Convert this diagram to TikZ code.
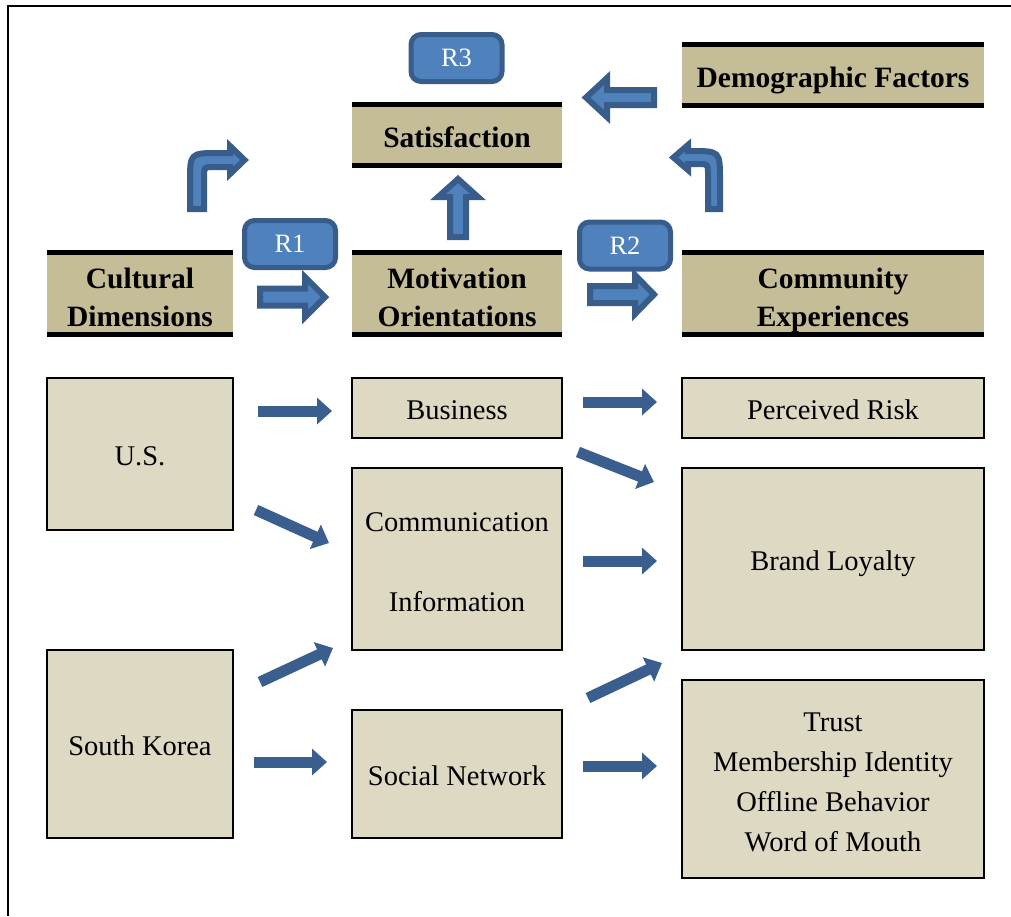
\documentclass[tikz,border=0pt]{standalone}
\usepackage{fontspec}
\setmainfont{Liberation Serif}
\usetikzlibrary{arrows.meta}
\definecolor{tanH}{HTML}{C4BD97}
\definecolor{tanB}{HTML}{DDD9C3}
\definecolor{blueFill}{HTML}{4F81BD}
\definecolor{blueLine}{HTML}{385D8A}
\definecolor{arrowBlue}{HTML}{3A5F8E}
\newcommand{\topH}{\rule{0pt}{35pt}}
\newcommand{\topR}{\rule{0pt}{32pt}}
\newcommand{\botS}{\rule[-8pt]{0pt}{8pt}}
\begin{document}
\begin{tikzpicture}[x=1pt,y=-1pt,
  hdrbase/.style={fill=tanH, inner sep=0pt, align=center, font=\fontsize{29.5}{38}\selectfont\bfseries},
  hdr/.style={hdrbase, execute at begin node={\rule{0pt}{33pt}}, execute at end node={\rule[-8pt]{0pt}{8pt}}},
  hline/.style={line width=5pt, black},
  boxbase/.style={draw=black, line width=2.5pt, fill=tanB, inner sep=0pt, align=center, font=\fontsize{28.5}{40}\selectfont},
  box/.style={boxbase, execute at begin node={\rule{0pt}{31pt}}, execute at end node={\rule[-8pt]{0pt}{8pt}}},
  rlab/.style={draw=blueLine, fill=blueFill, line width=5pt, rounded corners=10pt, text=white, inner sep=0pt, minimum width=91pt, minimum height=47pt, font=\fontsize{26.5}{30}\selectfont},
  barrow/.style={draw=blueLine, fill=blueFill, line width=6pt},
  sarrow/.style={draw=arrowBlue, line width=11pt, -{Triangle[length=15pt,width=26pt]}}
]
\useasboundingbox (0,0) rectangle (1011,916);
% frame
\draw[line width=2.5pt] (8,916) -- (8,6) -- (1011,6);

% headers
\node[hdrbase, minimum width=186pt, minimum height=79pt] (cult) at (140,293.5) {\topH Cultural\\Dimensions\botS};
\node[hdrbase, minimum width=210pt, minimum height=79pt] (motiv) at (457,293.5) {\topH Motivation\\Orientations\botS};
\node[hdrbase, minimum width=302pt, minimum height=79pt] (commexp) at (833,293.5) {\topH Community\\Experiences\botS};
\node[hdr, minimum width=210pt, minimum height=60pt] (satis) at (457,135) {Satisfaction};
\node[hdr, minimum width=302pt, minimum height=60pt] (demo) at (833,75) {Demographic Factors};
\foreach \n in {cult,motiv,commexp,satis,demo}{
  \draw[hline] (\n.north west) -- (\n.north east);
  \draw[hline] (\n.south west) -- (\n.south east);
}

% content boxes
\node[box, minimum width=186pt, minimum height=152pt] (us) at (140,454) {U.S.};
\node[box, minimum width=186pt, minimum height=188pt] (sk) at (140,744) {South Korea};
\node[box, minimum width=210pt, minimum height=60pt] (bus) at (457,408) {Business};
\node[boxbase, minimum width=210pt, minimum height=182pt] (cominf) at (457,559) {\topR Communication\\[40pt]Information\botS};
\node[box, minimum width=210pt, minimum height=128pt] (soc) at (457,774) {Social Network};
\node[box, minimum width=302pt, minimum height=60pt] (risk) at (833,408) {Perceived Risk};
\node[box, minimum width=302pt, minimum height=182pt] (brand) at (833,559) {Brand Loyalty};
\node[boxbase, minimum width=302pt, minimum height=198pt] (trust) at (833,779) {\topR Trust\\Membership Identity\\Offline Behavior\\Word of Mouth\botS};

% R labels
\node[rlab] (r1) at (290,244) {R1};
\node[rlab] (r2) at (625,245.5) {R2};
\node[rlab] (r3) at (456.5,58) {R3};

% block arrows
\draw[barrow] (260,288.5) -- (305,288.5) -- (305,277) -- (325,297) -- (305,317) -- (305,305.5) -- (260,305.5) -- cycle;
\draw[barrow] (590,286) -- (635,286) -- (635,275) -- (654,294.5) -- (635,314) -- (635,303) -- (590,303) -- cycle;
\draw[barrow] (450,237) -- (450,197) -- (438,197) -- (458,179) -- (478,197) -- (466,197) -- (466,237) -- cycle;
\draw[barrow] (654,90) -- (607,90) -- (607,78) -- (586,97.5) -- (607,117) -- (607,105) -- (654,105) -- cycle;
% bent arrows
\draw[barrow] (190,209) -- (190,182) .. controls (190,153) .. (219,153) -- (230,153) -- (230,146) -- (244.5,160) -- (230,174) -- (230,167) -- (214,167) .. controls (204,167) .. (204,177) -- (204,209) -- cycle;
\draw[barrow] (720,209) -- (720,180) .. controls (720,151) .. (691,151) -- (688,151) -- (688,145) -- (673.5,157.5) -- (688,170) -- (688,164) -- (698,164) .. controls (708,164) .. (708,174) -- (708,209) -- cycle;

% solid arrow end points
\coordinate (a1s) at (258,411); \coordinate (a1e) at (332,411);
\coordinate (a2s) at (256,510); \coordinate (a2e) at (329,543);
\coordinate (a3s) at (260,682); \coordinate (a3e) at (333,648);
\coordinate (a4s) at (254,762); \coordinate (a4e) at (327,762);
\coordinate (a5s) at (583,402); \coordinate (a5e) at (657,402);
\coordinate (a6s) at (578,452); \coordinate (a6e) at (654,482);
\coordinate (a7s) at (583,561); \coordinate (a7e) at (657,561);
\coordinate (a8s) at (588,698); \coordinate (a8e) at (662,663);
\coordinate (a9s) at (583,766); \coordinate (a9e) at (657,766);
\foreach \i in {1,...,9}{
  \draw[sarrow] (a\i s) -- (a\i e);
}
\end{tikzpicture}
\end{document}
